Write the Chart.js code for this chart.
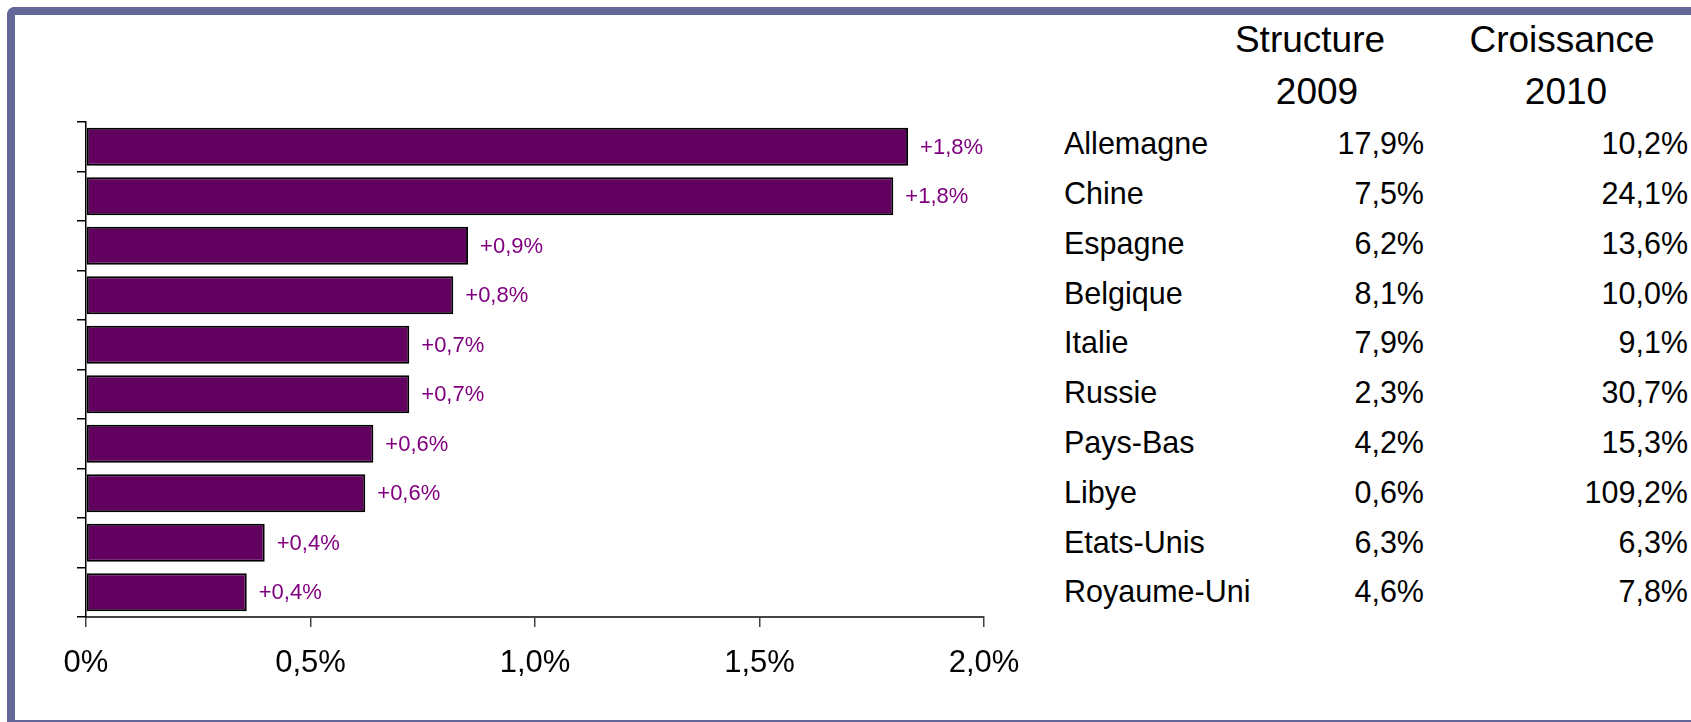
<!DOCTYPE html>
<html lang="fr">
<head>
    <meta charset="UTF-8">
    <title>Contribution à la croissance 2010</title>
    <script src="https://cdn.jsdelivr.net/npm/chart.js"></script>
    <style>
        html, body { margin: 0; padding: 0; background: #fff; overflow: hidden; }
        body { width: 1691px; height: 722px; position: relative; font-family: 'Liberation Sans', Arial, sans-serif; }
        .frame {
            position: absolute; left: 7px; top: 7px; width: 1700px; height: 705px;
            border-left: 8px solid #64679a; border-top: 8px solid #64679a; border-bottom: 2px solid #64679a;
            border-top-left-radius: 8px;
        }
        #chartBox { position: absolute; left: 0; top: 0; width: 1040px; height: 722px; }
        .txt { position: absolute; white-space: nowrap; color: #000; line-height: 1; }
        .head { font-size: 37px; }
        .row { font-size: 30.5px; }
    </style>
</head>
<body>
    <div class="frame"></div>
    <div id="chartBox"><canvas id="chart" width="1040" height="722"></canvas></div>
    <div id="table"></div>

    <script>
        // data
        const countries = ['Allemagne', 'Chine', 'Espagne', 'Belgique', 'Italie', 'Russie', 'Pays-Bas', 'Libye', 'Etats-Unis', 'Royaume-Uni'];
        const contribution = [1.831, 1.798, 0.851, 0.818, 0.72, 0.72, 0.64, 0.622, 0.398, 0.358];
        const contributionLabels = ['+1,8%', '+1,8%', '+0,9%', '+0,8%', '+0,7%', '+0,7%', '+0,6%', '+0,6%', '+0,4%', '+0,4%'];
        const structure2009 = [17.9, 7.5, 6.2, 8.1, 7.9, 2.3, 4.2, 0.6, 6.3, 4.6];
        const croissance2010 = [10.2, 24.1, 13.6, 10.0, 9.1, 30.7, 15.3, 109.2, 6.3, 7.8];
        const xTicks = [0, 0.5, 1, 1.5, 2];

        const pct = v => v.toFixed(1).replace('.', ',') + '%';

        // side table
        const table = document.getElementById('table');
        function place(text, cls, x, baseline, align) {
            const d = document.createElement('div');
            d.className = 'txt ' + cls;
            d.textContent = text;
            const fs = cls === 'head' ? 37 : 30.5;
            d.style.top = (baseline - 0.8465 * fs) + 'px';
            if (align === 'right') d.style.right = (1691 - x) + 'px';
            else if (align === 'center') { d.style.left = x + 'px'; d.style.transform = 'translateX(-50%)'; }
            else d.style.left = x + 'px';
            table.appendChild(d);
        }
        place('Structure', 'head', 1310, 52, 'center');
        place('2009', 'head', 1317, 104, 'center');
        place('Croissance', 'head', 1562, 52, 'center');
        place('2010', 'head', 1566, 104, 'center');
        countries.forEach((c, i) => {
            const base = 154 + i * 49.8;
            place(c, 'row', 1064, base, 'left');
            place(pct(structure2009[i]), 'row', 1424, base, 'right');
            place(pct(croissance2010[i]), 'row', 1688, base, 'right');
        });

        // value labels at the end of the bars
        const barLabels = {
            id: 'barLabels',
            afterDatasetsDraw(chart) {
                const ctx = chart.ctx;
                const meta = chart.getDatasetMeta(0);
                ctx.save();
                ctx.font = '22px "Liberation Sans", Arial, sans-serif';
                ctx.fillStyle = '#800080';
                ctx.textAlign = 'left';
                ctx.textBaseline = 'middle';
                meta.data.forEach((bar, i) => {
                    ctx.fillText(contributionLabels[i], bar.x + 12, bar.y + 1);
                });
                ctx.restore();
            }
        };

        new Chart(document.getElementById('chart'), {
            type: 'bar',
            data: {
                labels: countries,
                datasets: [{
                    data: contribution,
                    backgroundColor: '#620060',
                    borderColor: '#000',
                    borderWidth: 2,
                    borderSkipped: false,
                    barPercentage: 0.77,
                    categoryPercentage: 1
                }]
            },
            options: {
                indexAxis: 'y',
                responsive: false,
                animation: false,
                events: [],
                layout: { padding: { top: 122, right: 56, left: 0, bottom: 0 } },
                plugins: { legend: { display: false }, tooltip: { enabled: false } },
                scales: {
                    x: {
                        min: xTicks[0],
                        max: xTicks[xTicks.length - 1],
                        afterFit: s => { s.height = 105; },
                        afterBuildTicks: s => { s.ticks = xTicks.map(v => ({ value: v })); },
                        grid: { drawOnChartArea: false, drawTicks: true, tickLength: 10, color: '#444', lineWidth: 1.5 },
                        border: { display: true, color: '#444', width: 2 },
                        ticks: {
                            padding: 18,
                            color: '#000',
                            font: { family: '"Liberation Sans", Arial, sans-serif', size: 31 },
                            callback: v => v === 0 ? '0%' : pct(v)
                        }
                    },
                    y: {
                        afterFit: s => { s.width = 86; },
                        grid: { drawOnChartArea: false, drawTicks: true, tickLength: 9, color: '#000', lineWidth: 1.5, offset: true },
                        border: { display: true, color: '#000', width: 1.5 },
                        ticks: { display: false }
                    }
                }
            },
            plugins: [barLabels]
        });
    </script>
</body>
</html>
